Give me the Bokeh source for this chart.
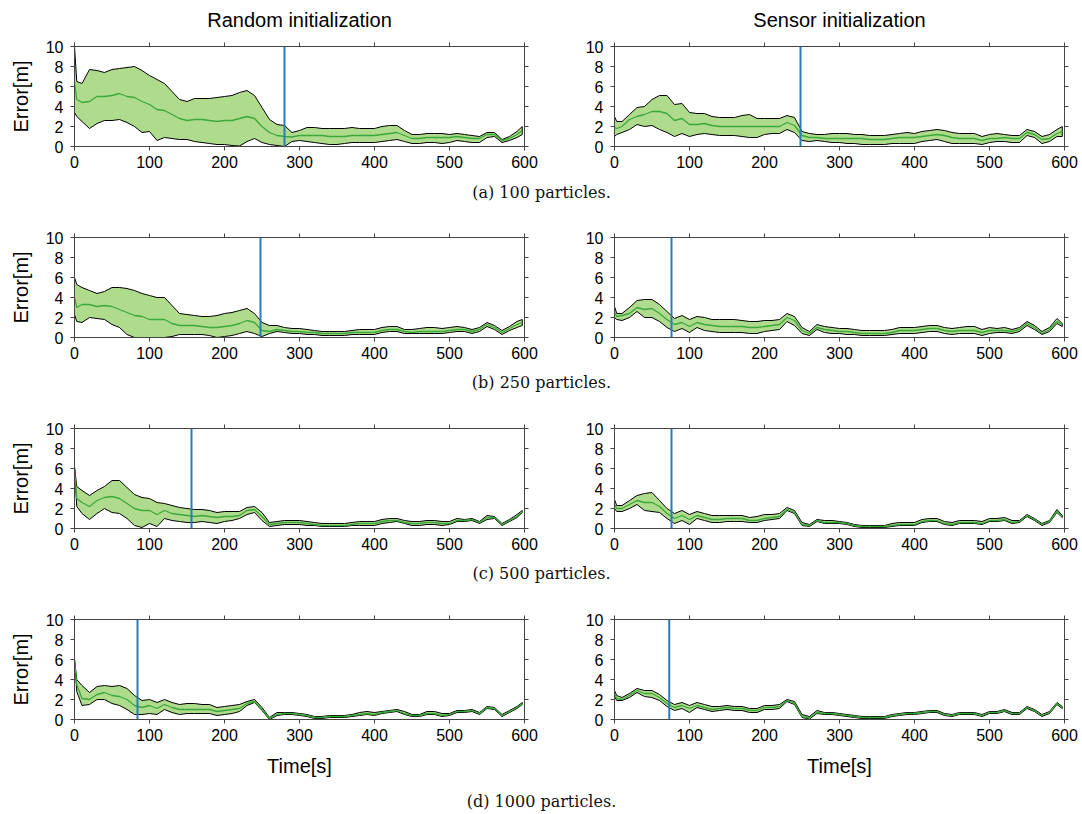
from bokeh.plotting import figure
from bokeh.models import Range1d, LinearAxis, FixedTicker, Label, Span
from bokeh.layouts import column, row
from bokeh.embed import file_html
from bokeh.resources import INLINE

# ---------------- data ----------------
T = [0, 3, 10, 20, 30, 40, 50, 60, 70, 80,
     90, 100, 110, 120, 130, 140, 150, 160, 170, 180,
     190, 200, 210, 220, 230, 240, 250, 260, 270, 280,
     290, 300, 310, 320, 330, 340, 350, 360, 370, 380,
     390, 400, 410, 420, 430, 440, 450, 460, 470, 480,
     490, 500, 510, 520, 530, 540, 550, 560, 570, 580,
     590, 597]

X_TICKS = [0, 100, 200, 300, 400, 500, 600]
Y_TICKS = [0, 2, 4, 6, 8, 10]

# Random initialization, 100 particles
R100_UP = [10.0, 6.5, 6.3, 7.7, 7.6, 7.4, 7.7, 7.8, 7.9, 8.0,
           7.6, 7.1, 6.7, 6.3, 5.5, 4.7, 4.5, 4.8, 4.8, 4.8,
           4.9, 5.0, 5.1, 5.4, 5.6, 5.1, 3.9, 2.7, 2.2, 2.1,
           1.4, 1.6, 1.9, 1.9, 1.8, 1.8, 1.8, 1.8, 1.9, 1.8,
           1.8, 1.8, 2.0, 2.1, 2.1, 1.6, 1.2, 1.2, 1.3, 1.3,
           1.3, 1.2, 1.3, 1.2, 1.1, 1.0, 1.4, 1.4, 0.7, 1.0,
           1.5, 2.0]
R100_MEAN = [6.4, 4.7, 4.4, 4.5, 5.0, 5.0, 5.1, 5.3, 5.0, 4.9,
             4.5, 4.2, 3.7, 3.6, 3.2, 2.8, 2.6, 2.7, 2.7, 2.6,
             2.5, 2.6, 2.6, 2.8, 3.0, 2.8, 2.0, 1.4, 1.1, 1.0,
             0.95, 1.1, 1.1, 1.1, 1.1, 1.0, 1.0, 1.0, 1.1, 1.1,
             1.1, 1.1, 1.2, 1.3, 1.4, 1.1, 0.8, 0.8, 0.9, 0.9,
             0.9, 0.9, 1.0, 0.9, 0.8, 0.8, 1.2, 1.2, 0.6, 0.8,
             1.2, 1.6]
R100_LOW = [3.4, 3.0, 2.5, 1.8, 2.3, 2.6, 2.6, 2.7, 2.4, 2.0,
            1.4, 1.5, 0.6, 0.9, 0.8, 0.7, 0.7, 0.5, 0.4, 0.3,
            0.2, 0.2, 0.1, 0.05, 0.5, 0.8, 0.4, 0.2, 0.1, 0.0,
            0.5, 0.6, 0.5, 0.4, 0.3, 0.2, 0.2, 0.3, 0.4, 0.4,
            0.4, 0.4, 0.5, 0.6, 0.7, 0.5, 0.3, 0.3, 0.4, 0.4,
            0.3, 0.4, 0.6, 0.5, 0.4, 0.4, 0.9, 1.0, 0.4, 0.6,
            0.9, 1.2]

# Sensor initialization, 100 particles
S100_UP = [3.0, 2.5, 2.5, 3.2, 3.9, 4.0, 4.7, 5.1, 5.1, 4.2,
           4.3, 3.4, 3.3, 3.3, 3.0, 2.9, 2.9, 2.9, 3.1, 3.2,
           2.8, 2.8, 2.8, 2.8, 3.1, 2.9, 1.5, 1.3, 1.2, 1.2,
           1.3, 1.3, 1.3, 1.2, 1.2, 1.1, 1.1, 1.1, 1.2, 1.3,
           1.4, 1.3, 1.5, 1.6, 1.7, 1.6, 1.4, 1.3, 1.3, 1.3,
           1.0, 1.2, 1.3, 1.2, 1.1, 1.1, 1.7, 1.5, 1.0, 1.2,
           1.7, 2.0]
S100_MEAN = [1.9, 1.8, 2.0, 2.7, 3.0, 3.2, 3.5, 3.5, 3.3, 2.6,
             2.8, 2.2, 2.2, 2.3, 2.1, 2.0, 2.0, 2.0, 2.0, 2.0,
             2.0, 2.0, 2.0, 2.0, 2.4, 2.1, 1.1, 0.9, 0.9, 0.8,
             0.8, 0.8, 0.8, 0.8, 0.8, 0.7, 0.7, 0.7, 0.8, 0.9,
             0.9, 0.9, 1.0, 1.1, 1.2, 1.1, 0.9, 0.8, 0.8, 0.8,
             0.6, 0.8, 0.8, 0.9, 0.8, 0.8, 1.4, 1.2, 0.7, 0.8,
             1.3, 1.5]
S100_LOW = [1.0, 1.2, 1.4, 1.7, 2.2, 2.0, 2.1, 1.7, 1.4, 1.0,
            1.3, 1.0, 1.2, 1.3, 1.2, 1.1, 1.1, 1.1, 1.0, 0.9,
            0.9, 1.2, 1.3, 1.3, 1.7, 1.4, 0.6, 0.5, 0.6, 0.5,
            0.4, 0.4, 0.3, 0.3, 0.2, 0.2, 0.2, 0.2, 0.3, 0.3,
            0.3, 0.3, 0.5, 0.6, 0.7, 0.5, 0.3, 0.3, 0.3, 0.3,
            0.2, 0.4, 0.5, 0.5, 0.4, 0.4, 1.1, 0.9, 0.3, 0.5,
            1.0, 1.0]

# Random initialization, 250 particles
R250_UP = [6.0, 5.3, 5.0, 4.7, 4.4, 4.6, 5.0, 5.0, 4.9, 4.7,
           4.4, 4.2, 4.0, 4.0, 3.2, 2.4, 2.3, 2.2, 2.1, 2.1,
           2.2, 2.4, 2.5, 2.7, 2.9, 2.4, 1.5, 1.2, 1.2, 1.0,
           0.9, 0.9, 0.8, 0.7, 0.6, 0.6, 0.6, 0.6, 0.7, 0.8,
           0.8, 0.8, 1.0, 1.1, 1.1, 0.8, 0.8, 0.9, 1.0, 1.0,
           0.9, 1.0, 1.1, 1.0, 0.8, 1.0, 1.5, 1.2, 0.7, 1.1,
           1.6, 1.8]
R250_MEAN = [4.0, 3.0, 3.3, 3.3, 3.1, 3.2, 3.1, 2.8, 2.5, 2.2,
             2.1, 1.8, 1.8, 1.8, 1.4, 1.2, 1.2, 1.2, 1.1, 1.0,
             1.0, 1.1, 1.2, 1.4, 1.7, 1.5, 0.7, 0.6, 0.8, 0.7,
             0.6, 0.6, 0.5, 0.5, 0.4, 0.4, 0.4, 0.4, 0.5, 0.5,
             0.5, 0.5, 0.7, 0.8, 0.8, 0.6, 0.5, 0.6, 0.6, 0.6,
             0.6, 0.7, 0.8, 0.8, 0.6, 0.8, 1.3, 1.0, 0.5, 0.9,
             1.3, 1.5]
R250_LOW = [2.3, 1.6, 1.5, 2.0, 1.9, 1.8, 1.3, 1.0, 0.3, 0.0,
            0.0, 0.0, 0.0, 0.0, 0.1, 0.3, 0.3, 0.3, 0.3, 0.2,
            0.0, 0.1, 0.2, 0.4, 0.6, 0.4, 0.1, 0.4, 0.6, 0.5,
            0.4, 0.4, 0.3, 0.3, 0.2, 0.2, 0.2, 0.2, 0.3, 0.3,
            0.3, 0.3, 0.5, 0.6, 0.6, 0.4, 0.4, 0.4, 0.4, 0.4,
            0.4, 0.5, 0.6, 0.6, 0.4, 0.6, 1.1, 0.8, 0.3, 0.7,
            1.0, 1.2]

# Sensor initialization, 250 particles
S250_UP = [3.1, 2.4, 2.4, 3.0, 3.7, 3.8, 3.8, 3.3, 2.6, 1.9,
           2.2, 1.8, 2.1, 2.0, 1.8, 1.8, 1.8, 1.8, 1.7, 1.6,
           1.6, 1.7, 1.7, 1.8, 2.4, 2.1, 1.0, 0.6, 1.3, 1.1,
           1.0, 0.9, 0.9, 0.8, 0.7, 0.7, 0.7, 0.7, 0.8, 1.0,
           1.0, 1.0, 1.1, 1.2, 1.2, 1.0, 0.9, 1.0, 1.1, 1.1,
           0.8, 1.0, 0.9, 1.0, 0.8, 1.0, 1.6, 1.2, 0.6, 1.0,
           1.9, 1.4]
S250_MEAN = [2.5, 2.1, 2.2, 2.4, 3.0, 2.8, 2.9, 2.4, 1.8, 1.3,
             1.5, 1.1, 1.5, 1.3, 1.2, 1.1, 1.1, 1.1, 1.1, 1.0,
             1.0, 1.1, 1.2, 1.3, 2.0, 1.7, 0.7, 0.4, 1.0, 0.8,
             0.7, 0.6, 0.6, 0.5, 0.4, 0.4, 0.4, 0.4, 0.5, 0.7,
             0.7, 0.7, 0.8, 0.9, 0.9, 0.7, 0.6, 0.7, 0.7, 0.7,
             0.5, 0.7, 0.7, 0.7, 0.6, 0.8, 1.4, 1.0, 0.4, 0.8,
             1.6, 1.3]
S250_LOW = [2.0, 1.8, 1.7, 2.0, 2.6, 2.0, 2.0, 1.6, 1.0, 0.6,
            0.9, 0.5, 1.0, 0.7, 0.6, 0.5, 0.5, 0.5, 0.5, 0.4,
            0.4, 0.6, 0.7, 0.8, 1.6, 1.2, 0.4, 0.2, 0.8, 0.5,
            0.4, 0.4, 0.3, 0.3, 0.2, 0.2, 0.2, 0.2, 0.3, 0.4,
            0.4, 0.4, 0.5, 0.6, 0.6, 0.4, 0.3, 0.4, 0.4, 0.4,
            0.2, 0.4, 0.5, 0.5, 0.4, 0.6, 1.2, 0.8, 0.3, 0.6,
            1.4, 1.1]

# Random initialization, 500 particles
R500_UP = [6.2, 4.2, 3.8, 3.3, 3.8, 4.2, 4.8, 4.8, 4.1, 3.4,
           3.1, 3.0, 2.6, 2.5, 2.3, 2.1, 2.0, 1.9, 1.9, 1.8,
           1.6, 1.7, 1.7, 1.7, 2.1, 2.2, 1.6, 0.6, 0.7, 0.8,
           0.8, 0.8, 0.7, 0.6, 0.5, 0.5, 0.5, 0.5, 0.6, 0.7,
           0.7, 0.7, 0.9, 1.0, 1.0, 0.8, 0.7, 0.7, 0.8, 0.8,
           0.7, 0.7, 1.0, 0.9, 1.0, 0.7, 1.3, 1.2, 0.5, 0.9,
           1.4, 1.8]
R500_MEAN = [6.0, 3.0, 2.6, 2.2, 2.8, 3.1, 3.2, 3.0, 2.5, 2.0,
             1.8, 1.8, 1.4, 1.8, 1.5, 1.4, 1.3, 1.2, 1.3, 1.2,
             1.1, 1.2, 1.2, 1.3, 1.8, 1.9, 1.2, 0.4, 0.5, 0.6,
             0.6, 0.6, 0.5, 0.4, 0.3, 0.3, 0.3, 0.3, 0.4, 0.5,
             0.5, 0.5, 0.7, 0.8, 0.8, 0.6, 0.5, 0.5, 0.6, 0.6,
             0.5, 0.5, 0.8, 0.8, 0.9, 0.6, 1.1, 1.1, 0.4, 0.8,
             1.2, 1.7]
R500_LOW = [6.0, 2.2, 1.5, 0.9, 1.5, 2.0, 1.6, 1.5, 1.0, 0.3,
            0.1, 0.5, 0.2, 1.0, 0.8, 0.7, 0.6, 0.6, 0.7, 0.6,
            0.5, 0.7, 0.8, 1.0, 1.4, 1.6, 0.8, 0.2, 0.3, 0.4,
            0.4, 0.4, 0.3, 0.3, 0.2, 0.2, 0.2, 0.2, 0.3, 0.3,
            0.3, 0.3, 0.5, 0.6, 0.7, 0.5, 0.3, 0.3, 0.4, 0.4,
            0.3, 0.4, 0.7, 0.7, 0.8, 0.5, 0.9, 1.0, 0.3, 0.7,
            1.1, 1.6]

# Sensor initialization, 500 particles
S500_UP = [2.9, 2.3, 2.3, 2.8, 3.3, 3.5, 3.6, 2.8, 2.0, 1.5,
           1.8, 1.4, 1.7, 1.5, 1.3, 1.3, 1.3, 1.3, 1.3, 1.1,
           1.2, 1.4, 1.4, 1.5, 2.1, 1.8, 0.6, 0.4, 0.9, 0.8,
           0.8, 0.7, 0.6, 0.4, 0.3, 0.3, 0.3, 0.3, 0.5, 0.6,
           0.6, 0.6, 0.9, 1.0, 1.0, 0.7, 0.6, 0.8, 0.8, 0.8,
           0.7, 1.0, 1.0, 1.1, 0.8, 0.8, 1.4, 1.0, 0.5, 0.8,
           1.9, 1.3]
S500_MEAN = [2.4, 2.0, 2.0, 2.4, 2.8, 2.6, 2.6, 2.2, 1.5, 1.0,
             1.3, 0.9, 1.3, 1.1, 0.9, 0.9, 1.0, 1.0, 1.0, 0.8,
             0.8, 1.0, 1.1, 1.2, 1.9, 1.6, 0.4, 0.3, 0.8, 0.6,
             0.6, 0.6, 0.5, 0.3, 0.2, 0.2, 0.2, 0.2, 0.3, 0.4,
             0.4, 0.4, 0.7, 0.8, 0.8, 0.5, 0.4, 0.6, 0.6, 0.6,
             0.5, 0.8, 0.8, 0.9, 0.6, 0.7, 1.3, 0.9, 0.4, 0.7,
             1.7, 1.2]
S500_LOW = [2.0, 1.7, 1.7, 2.0, 2.4, 1.8, 1.7, 1.6, 1.0, 0.5,
            0.8, 0.4, 1.0, 0.8, 0.6, 0.6, 0.7, 0.7, 0.7, 0.6,
            0.6, 0.8, 0.9, 1.0, 1.8, 1.5, 0.3, 0.2, 0.7, 0.5,
            0.5, 0.5, 0.4, 0.2, 0.1, 0.1, 0.1, 0.1, 0.2, 0.3,
            0.3, 0.3, 0.6, 0.7, 0.7, 0.4, 0.3, 0.5, 0.5, 0.5,
            0.4, 0.7, 0.7, 0.8, 0.5, 0.6, 1.2, 0.8, 0.3, 0.6,
            1.6, 1.1]

# Random initialization, 1000 particles
R1000_UP = [6.0, 4.0, 3.4, 2.7, 3.3, 3.4, 3.3, 3.4, 3.1, 2.4,
            1.9, 2.0, 1.7, 2.0, 1.7, 1.5, 1.6, 1.6, 1.5, 1.5,
            1.2, 1.3, 1.4, 1.5, 1.8, 2.0, 1.2, 0.2, 0.7, 0.7,
            0.7, 0.6, 0.5, 0.3, 0.3, 0.4, 0.4, 0.4, 0.5, 0.7,
            0.8, 0.7, 0.8, 0.9, 1.0, 0.8, 0.5, 0.5, 0.8, 0.8,
            0.6, 0.6, 0.9, 0.9, 1.0, 0.7, 1.3, 1.2, 0.5, 0.9,
            1.3, 1.7]
R1000_MEAN = [6.0, 3.5, 2.1, 2.0, 2.5, 2.7, 2.4, 2.3, 2.0, 1.4,
              1.2, 1.4, 1.1, 1.5, 1.2, 1.0, 1.0, 1.0, 1.0, 1.0,
              0.8, 0.9, 1.0, 1.1, 1.6, 1.8, 1.0, 0.1, 0.5, 0.6,
              0.6, 0.5, 0.4, 0.2, 0.2, 0.3, 0.3, 0.3, 0.4, 0.5,
              0.6, 0.5, 0.7, 0.8, 0.9, 0.6, 0.4, 0.4, 0.6, 0.6,
              0.4, 0.5, 0.8, 0.8, 0.9, 0.6, 1.2, 1.1, 0.4, 0.8,
              1.2, 1.6]
R1000_LOW = [6.0, 2.8, 1.4, 1.5, 2.0, 2.0, 1.6, 1.4, 1.0, 0.5,
             0.5, 0.6, 0.5, 1.0, 0.7, 0.5, 0.6, 0.6, 0.6, 0.6,
             0.4, 0.5, 0.6, 0.8, 1.4, 1.7, 0.9, 0.0, 0.4, 0.5,
             0.5, 0.4, 0.3, 0.1, 0.1, 0.2, 0.2, 0.2, 0.3, 0.4,
             0.5, 0.4, 0.6, 0.7, 0.8, 0.5, 0.3, 0.3, 0.5, 0.5,
             0.3, 0.4, 0.7, 0.7, 0.8, 0.5, 1.1, 1.0, 0.3, 0.7,
             1.1, 1.5]

# Sensor initialization, 1000 particles
S1000_UP = [2.9, 2.4, 2.2, 2.6, 3.1, 2.9, 2.9, 2.5, 1.9, 1.5,
            1.7, 1.4, 1.7, 1.5, 1.3, 1.3, 1.4, 1.3, 1.3, 1.1,
            1.1, 1.4, 1.4, 1.5, 2.0, 1.8, 0.5, 0.3, 0.9, 0.7,
            0.7, 0.6, 0.5, 0.4, 0.3, 0.3, 0.3, 0.3, 0.5, 0.6,
            0.7, 0.7, 0.8, 0.9, 0.9, 0.6, 0.5, 0.7, 0.7, 0.7,
            0.5, 0.8, 0.8, 1.0, 0.7, 0.7, 1.3, 1.0, 0.5, 0.8,
            1.7, 1.3]
S1000_MEAN = [2.6, 2.1, 2.0, 2.4, 2.9, 2.6, 2.6, 2.2, 1.6, 1.2,
              1.4, 1.1, 1.4, 1.2, 1.0, 1.1, 1.2, 1.1, 1.1, 0.9,
              0.9, 1.2, 1.2, 1.3, 1.9, 1.6, 0.3, 0.15, 0.7, 0.6,
              0.6, 0.5, 0.4, 0.3, 0.2, 0.2, 0.2, 0.2, 0.4, 0.5,
              0.6, 0.6, 0.7, 0.8, 0.8, 0.5, 0.4, 0.6, 0.6, 0.6,
              0.4, 0.7, 0.7, 0.9, 0.6, 0.6, 1.2, 0.9, 0.4, 0.7,
              1.6, 1.2]
S1000_LOW = [2.3, 1.9, 1.9, 2.2, 2.7, 2.3, 2.2, 1.9, 1.3, 0.9,
             1.1, 0.7, 1.2, 1.0, 0.8, 0.9, 1.0, 0.9, 0.9, 0.7,
             0.7, 1.0, 1.0, 1.1, 1.8, 1.5, 0.2, 0.05, 0.6, 0.5,
             0.5, 0.4, 0.3, 0.2, 0.1, 0.1, 0.1, 0.1, 0.3, 0.4,
             0.5, 0.5, 0.6, 0.7, 0.7, 0.4, 0.3, 0.5, 0.5, 0.5,
             0.3, 0.6, 0.6, 0.8, 0.5, 0.5, 1.1, 0.8, 0.3, 0.6,
             1.5, 1.1]

# convergence time markers (s)
CONV_RANDOM = [280, 248, 156, 84]
CONV_SENSOR = [248, 76, 76, 73]

COLUMN_TITLES = ["Random initialization", "Sensor initialization"]
CAPTIONS = ["(a) 100 particles.", "(b) 250 particles.",
            "(c) 500 particles.", "(d) 1000 particles."]

RANDOM = [(R100_UP, R100_MEAN, R100_LOW), (R250_UP, R250_MEAN, R250_LOW),
          (R500_UP, R500_MEAN, R500_LOW), (R1000_UP, R1000_MEAN, R1000_LOW)]
SENSOR = [(S100_UP, S100_MEAN, S100_LOW), (S250_UP, S250_MEAN, S250_LOW),
          (S500_UP, S500_MEAN, S500_LOW), (S1000_UP, S1000_MEAN, S1000_LOW)]

# ---------------- style ----------------
FILL = "#afdc8c"
MEAN_COLOR = "#3aa83a"
VLINE = "#2b7bba"
AXC = "#444444"
SANS = "Liberation Sans"
SERIF = "DejaVu Serif"

LEFT_W, RIGHT_W = 560, 522
TOTAL_W = LEFT_W + RIGHT_W
FRAME_H = 100


def style_axis(ax, ticks, labels=True):
    ax.ticker = FixedTicker(ticks=ticks)
    ax.axis_line_color = AXC
    ax.major_tick_line_color = AXC
    ax.major_tick_in = 0
    ax.major_tick_out = 4
    ax.minor_tick_line_color = None
    ax.major_label_text_font = SANS
    ax.major_label_text_color = "black"
    if labels:
        ax.major_label_text_font_size = "16px"
    else:
        # tick marks only: labels are neither drawn nor given room
        ax.major_label_text_font_size = "0px"
        ax.major_label_text_alpha = 0
        ax.major_label_text_color = None
        ax.major_label_standoff = 0


def panel(series, conv, is_left, row_idx):
    up, mean, low = series
    top = 12 if row_idx == 0 else 15
    bottom = 66 if row_idx == 3 else 30
    width = LEFT_W if is_left else RIGHT_W
    p = figure(width=width, height=top + FRAME_H + bottom,
               x_range=Range1d(0, 600), y_range=Range1d(0, 10),
               toolbar_location=None, output_backend="svg",
               min_border_top=top, min_border_bottom=bottom,
               min_border_left=74 if is_left else 54,
               min_border_right=36 if is_left else 18)
    xb = p.below[0]
    yl = p.left[0]
    p.grid.visible = False
    p.outline_line_color = AXC
    p.background_fill_color = "white"
    p.border_fill_color = "white"
    style_axis(xb, X_TICKS)
    style_axis(yl, Y_TICKS)
    xb.major_label_standoff = 5
    yl.major_label_standoff = 7
    ra = LinearAxis()
    style_axis(ra, Y_TICKS, labels=False)
    p.add_layout(ra, "right")
    ta = LinearAxis()
    style_axis(ta, X_TICKS, labels=False)
    p.add_layout(ta, "above")

    if is_left:
        yl.axis_label = "Error[m]"
        yl.axis_label_text_font = SANS
        yl.axis_label_text_font_size = "20px"
        yl.axis_label_text_font_style = "normal"
        yl.axis_label_text_color = "black"
        yl.axis_label_standoff = 11
    if row_idx == 3:
        xb.axis_label = "Time[s]"
        xb.axis_label_text_font = SANS
        xb.axis_label_text_font_size = "20px"
        xb.axis_label_text_font_style = "normal"
        xb.axis_label_text_color = "black"
        xb.axis_label_standoff = 11

    xs = T + T[::-1]
    ys = up + low[::-1]
    p.patch(xs, ys, fill_color=FILL, line_color="black", line_width=1)
    p.line(T, mean, line_color=MEAN_COLOR, line_width=1.3)
    p.add_layout(Span(location=conv, dimension="height",
                      line_color=VLINE, line_width=2))
    return p


def strip(height):
    c = figure(width=TOTAL_W, height=height,
               x_range=Range1d(0, TOTAL_W), y_range=Range1d(0, height),
               x_axis_type=None, y_axis_type=None,
               toolbar_location=None, output_backend="svg", min_border=0)
    c.grid.visible = False
    c.outline_line_color = None
    return c


def header():
    c = strip(34)
    for text, xc in zip(COLUMN_TITLES, [74 + 225, LEFT_W + 54 + 225]):
        c.add_layout(Label(x=xc, y=34 - 19, text=text,
                           text_align="center", text_baseline="middle",
                           text_font=SANS, text_font_size="20px",
                           text_color="black"))
    return c


def caption(text, height, offset):
    c = strip(height)
    c.add_layout(Label(x=541, y=height - offset, text=text,
                       text_align="center", text_baseline="middle",
                       text_font=SERIF, text_font_size="16px",
                       text_color="#111111"))
    return c


children = [header()]
cap_specs = [(46, 16), (46, 15), (46, 15), (29, 16)]
for i in range(4):
    left = panel(RANDOM[i], CONV_RANDOM[i], True, i)
    right = panel(SENSOR[i], CONV_SENSOR[i], False, i)
    children.append(row(left, right, spacing=0))
    h, off = cap_specs[i]
    children.append(caption(CAPTIONS[i], h, off))

layout = column(*children, spacing=0)

open("out.html", "w").write(file_html(layout, INLINE))
